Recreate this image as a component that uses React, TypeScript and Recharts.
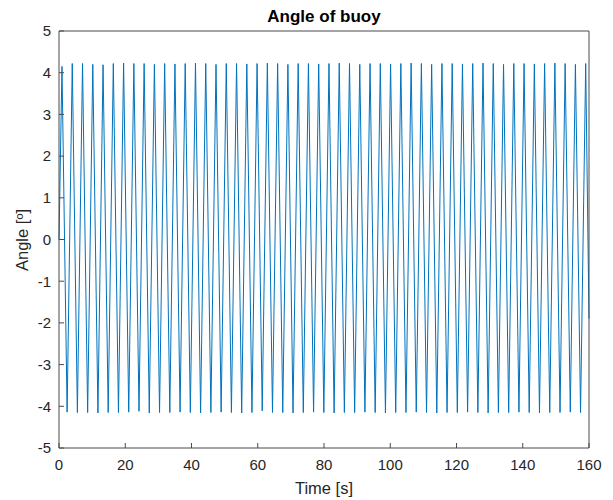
import { Line, LineChart, XAxis, YAxis } from "recharts";

// sample times [s]: start, alternating peak / trough, end
const timeS = [
  0,
  0.9, 2.45, 4.0, 5.55, 7.1, 8.65, 10.2, 11.75, 13.3, 14.85,
  16.4, 17.95, 19.5, 21.05, 22.6, 24.15, 25.7, 27.25, 28.8, 30.35,
  31.9, 33.45, 35.0, 36.55, 38.1, 39.65, 41.2, 42.75, 44.3, 45.85,
  47.4, 48.95, 50.5, 52.05, 53.6, 55.15, 56.7, 58.25, 59.8, 61.35,
  62.9, 64.45, 66.0, 67.55, 69.1, 70.65, 72.2, 73.75, 75.3, 76.85,
  78.4, 79.95, 81.5, 83.05, 84.6, 86.15, 87.7, 89.25, 90.8, 92.35,
  93.9, 95.45, 97.0, 98.55, 100.1, 101.65, 103.2, 104.75, 106.3, 107.85,
  109.4, 110.95, 112.5, 114.05, 115.6, 117.15, 118.7, 120.25, 121.8, 123.35,
  124.9, 126.45, 128.0, 129.55, 131.1, 132.65, 134.2, 135.75, 137.3, 138.85,
  140.4, 141.95, 143.5, 145.05, 146.6, 148.15, 149.7, 151.25, 152.8, 154.35,
  155.9, 157.45, 159.0,
  160,
];

// buoy angle [deg] at those times
const angleDeg = [
  0,
  4.15, -4.14, 4.22, -4.15, 4.22, -4.15, 4.2, -4.16, 4.19, -4.15,
  4.22, -4.15, 4.23, -4.14, 4.22, -4.12, 4.22, -4.16, 4.2, -4.15,
  4.22, -4.15, 4.21, -4.14, 4.22, -4.15, 4.23, -4.16, 4.22, -4.15,
  4.2, -4.14, 4.22, -4.15, 4.22, -4.16, 4.21, -4.15, 4.22, -4.11,
  4.23, -4.15, 4.22, -4.15, 4.2, -4.16, 4.22, -4.15, 4.22, -4.14,
  4.21, -4.15, 4.22, -4.16, 4.23, -4.15, 4.22, -4.15, 4.2, -4.14,
  4.22, -4.15, 4.22, -4.16, 4.21, -4.15, 4.22, -4.15, 4.23, -4.14,
  4.22, -4.15, 4.2, -4.16, 4.22, -4.15, 4.22, -4.15, 4.21, -4.14,
  4.22, -4.15, 4.23, -4.16, 4.22, -4.15, 4.2, -4.15, 4.22, -4.14,
  4.22, -4.15, 4.21, -4.16, 4.22, -4.15, 4.23, -4.15, 4.22, -4.14,
  4.2, -4.15, 4.22,
  -1.9,
];

const xTicks = [0, 20, 40, 60, 80, 100, 120, 140, 160];
const yTicks = [-5, -4, -3, -2, -1, 0, 1, 2, 3, 4, 5];

const data = timeS.map((t, i) => ({ t, angle: angleDeg[i] }));

const FONT = "'Liberation Sans', Arial, Helvetica, sans-serif";
const INK = "#262626";
const AXIS = "#4a4a4a";
const tickText = { fontSize: 15, fill: INK, fontFamily: FONT };

// negative tickSize puts the tick marks inside the box, MATLAB style
export default function App() {
  return (
    <div style={{ position: "absolute", left: 0, top: 0, width: 613, height: 500, background: "#fff" }}>
      <LineChart
        width={613}
        height={500}
        data={data}
        margin={{ top: 30, right: 23, bottom: 22, left: 19 }}
      >
        <XAxis
          xAxisId="b"
          dataKey="t"
          type="number"
          domain={[0, 160]}
          ticks={xTicks}
          interval={0}
          height={30}
          tickSize={-5}
          tickMargin={16}
          tick={tickText}
          tickLine={{ stroke: AXIS }}
          axisLine={{ stroke: AXIS }}
        />
        <XAxis
          xAxisId="top"
          orientation="top"
          dataKey="t"
          type="number"
          domain={[0, 160]}
          ticks={xTicks}
          interval={0}
          height={1}
          tickSize={-5}
          tick={false}
          tickLine={{ stroke: AXIS }}
          axisLine={{ stroke: AXIS }}
        />
        <YAxis
          yAxisId="l"
          type="number"
          domain={[-5, 5]}
          ticks={yTicks}
          interval={0}
          width={40}
          tickSize={-5}
          tickMargin={13}
          tick={tickText}
          tickLine={{ stroke: AXIS }}
          axisLine={{ stroke: AXIS }}
        />
        <YAxis
          yAxisId="r"
          orientation="right"
          type="number"
          domain={[-5, 5]}
          ticks={yTicks}
          interval={0}
          width={1}
          tickSize={-5}
          tick={false}
          tickLine={{ stroke: AXIS }}
          axisLine={{ stroke: AXIS }}
        />
        <Line
          xAxisId="b"
          yAxisId="l"
          type="linear"
          dataKey="angle"
          stroke="#0072BD"
          strokeWidth={1}
          dot={false}
          isAnimationActive={false}
        />
        <text x={324} y={22} textAnchor="middle" fontSize={17} fontWeight="bold" fill="#000" fontFamily={FONT}>
          Angle of buoy
        </text>
        <text x={324} y={494} textAnchor="middle" fontSize={16.5} fill={INK} fontFamily={FONT}>
          Time [s]
        </text>
        <text
          x={28}
          y={240}
          textAnchor="middle"
          fontSize={16.5}
          fill={INK}
          fontFamily={FONT}
          transform="rotate(-90, 28, 240)"
        >
          Angle [º]
        </text>
      </LineChart>
    </div>
  );
}
